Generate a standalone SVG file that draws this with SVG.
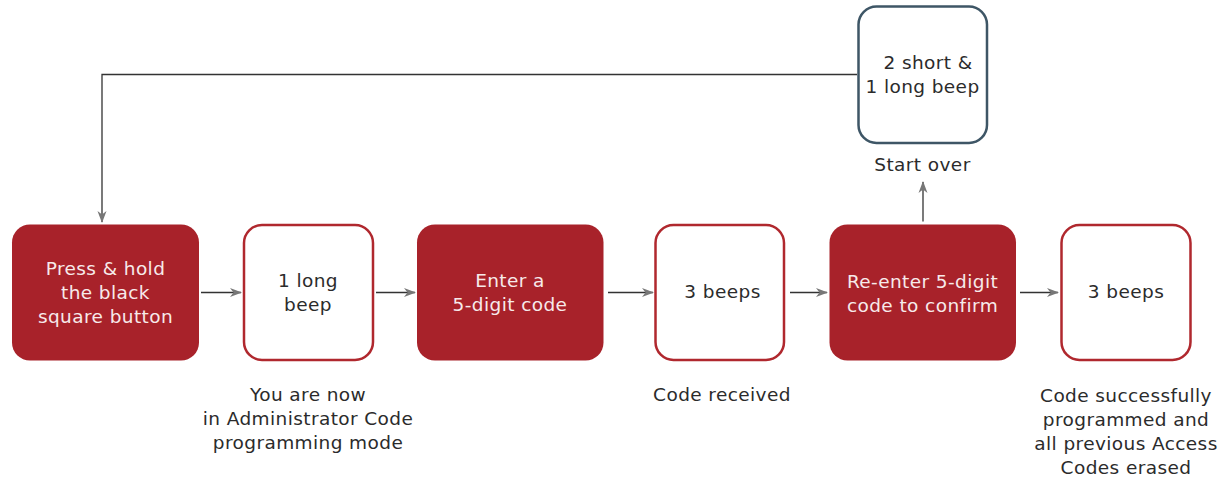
<svg xmlns="http://www.w3.org/2000/svg" width="1224" height="478" viewBox="0 0 1224 478">
<style>
.fill{fill:#a8222a;}
.out{fill:#fff;stroke:#b0282e;stroke-width:2.5;}
.blue{fill:#fff;stroke:#3e5666;stroke-width:2.5;}
text{font-family:"DejaVu Sans","Liberation Sans",sans-serif;font-size:18.5px;letter-spacing:0.4px;text-anchor:middle;fill:#2b2b2b;}
.w{fill:#f7eaea;}
.con{fill:none;stroke:#333;stroke-width:1.3;marker-end:url(#ah);}
</style>
<defs>
<marker id="ah" viewBox="0 0 12 10" refX="11" refY="5" markerWidth="12" markerHeight="10" markerUnits="userSpaceOnUse" orient="auto">
<path d="M0,0.5 L12,5 L0,9.5 L3.5,5 z" fill="#777"/>
</marker>
</defs>
<g id="connectors">
<path class="con" d="M201,292.5 H241"/>
<path class="con" d="M376,292.5 H415"/>
<path class="con" d="M608,292.5 H653"/>
<path class="con" d="M790,292.5 H827"/>
<path class="con" d="M1020,292.5 H1058"/>
<path class="con" d="M923,221.5 V182"/>
<path class="con" d="M857,74.5 H102 V222"/>
</g>
<g id="n1">
<rect class="fill" x="12" y="224.5" width="187" height="136" rx="18"/>
<text class="w" x="105.5" y="275">Press &amp; hold</text>
<text class="w" x="105.5" y="299">the black</text>
<text class="w" x="105.5" y="323">square button</text>
</g>
<g id="n2">
<rect class="out" x="244" y="225" width="129" height="135" rx="18"/>
<text x="308" y="287">1 long</text>
<text x="308" y="311">beep</text>
</g>
<g id="n3">
<rect class="fill" x="417" y="224.5" width="186.5" height="136" rx="18"/>
<text class="w" x="510" y="287">Enter a</text>
<text class="w" x="510" y="311">5-digit code</text>
</g>
<g id="n4">
<rect class="out" x="655.5" y="225" width="128.5" height="135" rx="18"/>
<text x="722.5" y="298">3 beeps</text>
</g>
<g id="n5">
<rect class="fill" x="829.5" y="224.5" width="186.5" height="136" rx="18"/>
<text class="w" x="922.5" y="288">Re-enter 5-digit</text>
<text class="w" x="922.5" y="312">code to confirm</text>
</g>
<g id="n6">
<rect class="out" x="1061.5" y="225" width="129" height="135" rx="18"/>
<text x="1126" y="298">3 beeps</text>
</g>
<g id="n7">
<rect class="blue" x="858.5" y="6.5" width="128.5" height="136.5" rx="18"/>
<text x="928" y="68.5">2 short &amp;</text>
<text x="922.5" y="92.5">1 long beep</text>
</g>
<g id="labels">
<text x="922.5" y="171">Start over</text>
<text x="308" y="400.5">You are now</text>
<text x="308" y="425">in Administrator Code</text>
<text x="308" y="449">programming mode</text>
<text x="722" y="400.5">Code received</text>
<text x="1126" y="401.5">Code successfully</text>
<text x="1126" y="425.5">programmed and</text>
<text x="1126" y="449.5">all previous Access</text>
<text x="1126" y="473.5">Codes erased</text>
</g>
</svg>
